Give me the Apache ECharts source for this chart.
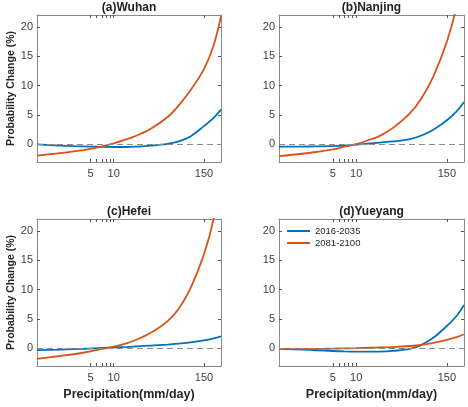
<!DOCTYPE html>
<html>
<head>
<meta charset="utf-8">
<script src="https://cdn.jsdelivr.net/npm/echarts@6/dist/echarts.min.js"></script>
<style>html,body{margin:0;padding:0;background:#fff}#chart{width:468px;height:407px}</style>
</head>
<body>
<div id="chart"></div>
<script>
var chartDom = document.getElementById('chart');
var myChart = echarts.init(chartDom);

// precipitation (mm/day), log axis
var precip = [1, 2, 3, 5, 7, 10, 15, 20, 30, 50, 70, 100, 150, 200, 250];
var xTickLabels = [5, 10, 150];
var xTicks = [5, 6, 7, 8, 9, 10, 150];
var yTicks = [0, 5, 10, 15, 20];

var titles = ['(a)Wuhan', '(b)Nanjing', '(c)Hefei', '(d)Yueyang'];
var periods = ['2016-2035', '2081-2100'];

var wuhanNear = [0, -0.2, -0.3, -0.38, -0.42, -0.45, -0.45, -0.38, -0.22, 0.1, 0.5, 1.35, 3.1, 4.5, 5.9];
var wuhanFar = [-1.9, -1.5, -1.2, -0.75, -0.35, 0.15, 0.9, 1.5, 2.6, 4.6, 6.6, 9.2, 12.8, 16.8, 21.8];
var nanjingNear = [-0.4, -0.38, -0.35, -0.3, -0.2, -0.05, 0.15, 0.3, 0.5, 0.9, 1.5, 2.5, 4.1, 5.6, 7.2];
var nanjingFar = [-2.0, -1.6, -1.3, -0.85, -0.4, 0.05, 0.8, 1.4, 2.8, 5.3, 7.8, 11.5, 17.5, 23.5, 32];
var hefeiNear = [-0.3, -0.2, -0.12, -0.02, 0.08, 0.15, 0.25, 0.35, 0.48, 0.65, 0.8, 1.0, 1.35, 1.7, 2.05];
var hefeiFar = [-1.8, -1.3, -1.0, -0.5, -0.1, 0.3, 0.9, 1.5, 2.6, 4.6, 6.7, 10.2, 16.0, 22.0, 30];
var yueyangNear = [-0.1, -0.22, -0.32, -0.45, -0.52, -0.56, -0.57, -0.55, -0.42, -0.1, 0.6, 1.8, 3.8, 5.5, 7.4];
var yueyangFar = [-0.1, -0.1, -0.1, -0.05, 0, 0.03, 0.1, 0.15, 0.22, 0.4, 0.6, 0.95, 1.45, 1.9, 2.4];

var panels = [[wuhanNear, wuhanFar], [nanjingNear, nanjingFar], [hefeiNear, hefeiFar], [yueyangNear, yueyangFar]];

var colors = ['#0072BD', '#D95319'];
var font = 'Liberation Sans, Arial, sans-serif';
var boxColor = '#8a8a8a';
var grids = [
    {left: 37, top: 15, width: 184, height: 147},
    {left: 279, top: 15, width: 185, height: 147},
    {left: 37, top: 219, width: 184, height: 147},
    {left: 279, top: 219, width: 185, height: 147}
];

function pairs(ys) {
    return precip.map(function (x, i) { return [x, ys[i]]; });
}

var title = [], xAxis = [], yAxis = [], series = [];
grids.forEach(function (g, i) {
    title.push({
        text: titles[i], left: g.left + g.width / 2, top: g.top - 13, textAlign: 'center', padding: 0,
        textStyle: {fontFamily: font, fontSize: 12, fontWeight: 'bold', color: '#222'}
    });
    var showXName = i >= 2, showYName = i % 2 === 0;
    xAxis.push({
        type: 'log', logBase: 10, gridIndex: i, min: 1, max: 250, position: 'bottom',
        name: showXName ? 'Precipitation(mm/day)' : '', nameLocation: 'middle', nameGap: 22,
        nameTextStyle: {fontFamily: font, fontSize: 12.5, fontWeight: 'bold', color: '#262626'},
        axisLine: {onZero: false, lineStyle: {color: boxColor, width: 1}},
        axisTick: {inside: true, length: 3, customValues: xTicks, lineStyle: {color: '#555'}},
        axisLabel: {customValues: xTickLabels, margin: 6, fontFamily: font, fontSize: 11, color: '#404040'},
        minorTick: {show: false}, splitLine: {show: false}
    });
    xAxis.push({
        type: 'log', logBase: 10, gridIndex: i, min: 1, max: 250, position: 'top',
        axisLine: {onZero: false, lineStyle: {color: boxColor, width: 1}},
        axisTick: {inside: true, length: 3, customValues: xTicks, lineStyle: {color: '#555'}},
        axisLabel: {show: false}, splitLine: {show: false}
    });
    yAxis.push({
        type: 'value', gridIndex: i, min: -3, max: 22, position: 'left',
        name: showYName ? 'Probability Change (%)' : '', nameLocation: 'middle', nameGap: 20,
        nameTextStyle: {fontFamily: font, fontSize: 10.5, fontWeight: 'bold', color: '#262626'},
        axisLine: {show: true, onZero: false, lineStyle: {color: boxColor, width: 1}},
        axisTick: {show: true, inside: true, length: 3, customValues: yTicks, lineStyle: {color: '#555'}},
        axisLabel: {customValues: yTicks, margin: 4, fontFamily: font, fontSize: 11, color: '#404040'},
        splitLine: {show: false}
    });
    yAxis.push({
        type: 'value', gridIndex: i, min: -3, max: 22, position: 'right',
        axisLine: {show: true, onZero: false, lineStyle: {color: boxColor, width: 1}},
        axisTick: {show: true, inside: true, length: 3, customValues: yTicks, lineStyle: {color: '#555'}},
        axisLabel: {show: false}, splitLine: {show: false}
    });
    panels[i].forEach(function (ys, k) {
        var s = {
            type: 'line', name: periods[k], xAxisIndex: 2 * i, yAxisIndex: 2 * i,
            data: pairs(ys), smooth: 0.35, symbol: 'none', clip: true,
            lineStyle: {color: colors[k], width: 1.8}, itemStyle: {color: colors[k]}
        };
        if (k === 0) {
            s.markLine = {
                silent: true, symbol: 'none', label: {show: false}, z: 5,
                lineStyle: {color: '#8c8c8c', type: [6, 4], width: 1.2},
                data: [{yAxis: 0}]
            };
        }
        series.push(s);
    });
});

var option = {
    animation: false,
    backgroundColor: '#fff',
    title: title,
    grid: grids,
    xAxis: xAxis,
    yAxis: yAxis,
    legend: {
        data: periods, orient: 'vertical', left: 287, top: 226, padding: 0,
        itemWidth: 23, itemHeight: 2, itemGap: 2, icon: 'rect',
        textStyle: {fontFamily: font, fontSize: 9.5, color: '#262626'}
    },
    series: series
};

myChart.setOption(option);
</script>
</body>
</html>
